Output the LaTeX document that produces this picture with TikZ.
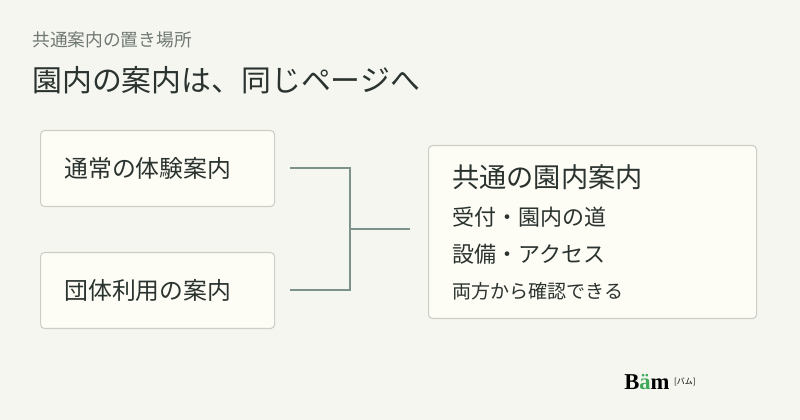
\documentclass[tikz,border=0pt]{standalone}
\usepackage{fontspec}
\setmainfont{Noto Sans CJK JP}
\newfontfamily\logofont{Liberation Serif}
\usetikzlibrary{positioning}
\definecolor{bgpage}{HTML}{F6F6F1}
\definecolor{boxfill}{HTML}{FDFCF5}
\definecolor{boxline}{HTML}{CDCFC6}
\definecolor{linkline}{HTML}{7D928A}
\definecolor{inkdark}{HTML}{2A332F}
\definecolor{inkgray}{HTML}{6F7872}
\definecolor{bamgreen}{HTML}{3DAA5A}
\begin{document}
\begin{tikzpicture}[x=0.75pt,y=-0.75pt,
  card/.style={draw=boxline,fill=boxfill,rounded corners=3pt,line width=0.8pt,anchor=north west},
  txt/.style={anchor=west,inner sep=0pt,text=inkdark},
  link/.style={draw=linkline,line width=2pt}]
	
	\fill[bgpage] (0,0) rectangle (800,420);
	\useasboundingbox (0,0) rectangle (800,420);
	
	\node[txt,text=inkgray,font=\fontsize{13.3pt}{15pt}\selectfont] (sub) at (32,40) {共通案内の置き場所};
	\node[txt,font=\fontsize{22.4pt}{25pt}\selectfont] (head) at (32,80) {園内の案内は、同じページへ};
	
	\node[card,minimum width=234*0.75pt,minimum height=76*0.75pt] (B1) at (40,130) {};
	\node[card,minimum width=234*0.75pt,minimum height=76*0.75pt] (B2) at (40,252) {};
	\node[card,minimum width=328*0.75pt,minimum height=173*0.75pt] (B3) at (428,145) {};
	
	\node[txt,font=\fontsize{17.9pt}{20pt}\selectfont] (t1) at (64,168) {通常の体験案内};
	\node[txt,font=\fontsize{17.9pt}{20pt}\selectfont] (t2) at (64,290) {団体利用の案内};
	\node[txt,font=\fontsize{20.4pt}{23pt}\selectfont] (r0) at (452,177) {共通の園内案内};
	\node[txt,font=\fontsize{16.5pt}{19pt}\selectfont] (r1) at (452,217) {受付・園内の道};
	\node[txt,font=\fontsize{16.5pt}{19pt}\selectfont] (r2) at (452,254) {設備・アクセス};
	\node[txt,font=\fontsize{14.3pt}{16pt}\selectfont] (r3) at (452,291) {両方から確認できる};
	
	\coordinate (j1) at (290,168);
	\coordinate (j2) at (290,290);
	\coordinate (jm) at (350,229);
	\coordinate (je) at (410,229);
	\draw[link] (j1) -| (jm) |- (j2);
	\draw[link] (jm) -- (je);
	
	\node[txt,font=\logofont\bfseries\fontsize{17pt}{18pt}\selectfont,text=black] (logo) at (624,382) {B\textcolor{bamgreen}{ä}m};
	\node[txt,font=\fontsize{6pt}{7pt}\selectfont,text=black,right=3pt of logo] (logok) {[バム]};
\end{tikzpicture}
\end{document}
